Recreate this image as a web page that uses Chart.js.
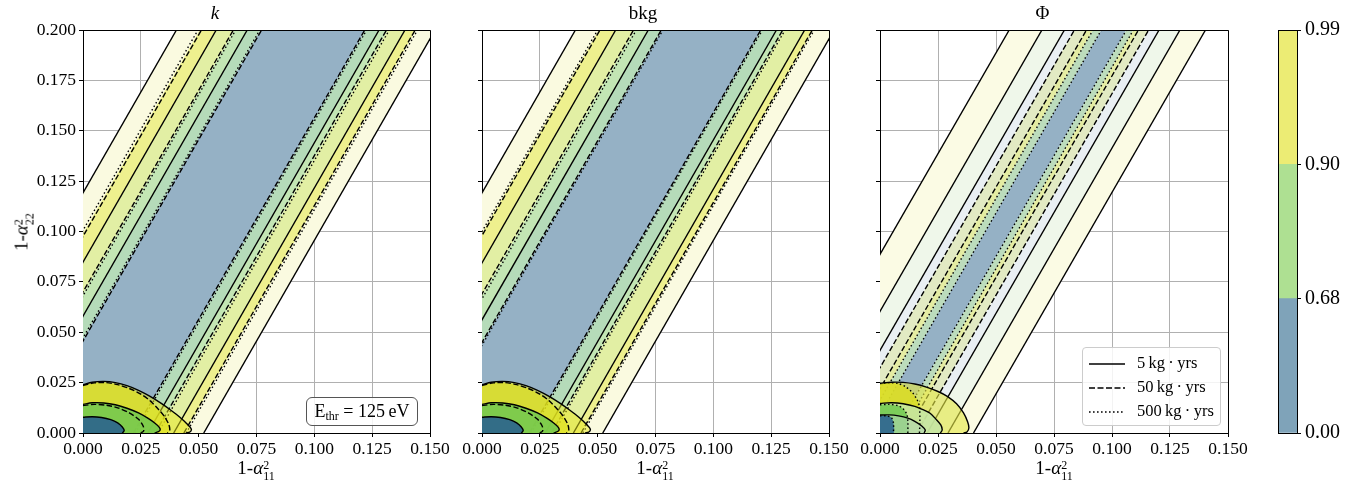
<!DOCTYPE html>
<html>
<head>
<meta charset="utf-8">
<script src="https://cdn.jsdelivr.net/npm/chart.js@4.4.0/dist/chart.umd.min.js"></script>
<style>
  body { margin: 0; background: #fff; width: 1367px; height: 491px; position: relative; overflow: hidden;
         font-family: 'Liberation Serif', 'DejaVu Serif', serif; color: #000; }
  .box { position: absolute; top: 0; height: 491px; }
  .xt { position: absolute; top: 457px; font-size: 19px; transform: translateX(-50%); white-space: nowrap; }
  .yt { position: absolute; left: 23px; top: 232px; font-size: 19px; white-space: nowrap;
        transform: translate(-50%, -50%) rotate(-90deg); }
  .ss { display: inline-block; vertical-align: -6px; font-size: 12px; line-height: 11px; }
  .ss span { display: block; }
  .ethr { position: absolute; left: 306px; top: 397px; width: 110px; height: 27px; border: 1px solid #555;
          border-radius: 6px; background: rgba(255,255,255,0.85); font-size: 18px; line-height: 27px; text-align: center; }
  .ethr sub { font-size: 12px; vertical-align: -3px; }
  .leg { position: absolute; left: 1082px; top: 347px; width: 137px; height: 77px; border: 1px solid #ccc;
         border-radius: 4px; background: rgba(255,255,255,0.85); font-size: 16.5px; }
  .leg div { position: absolute; left: 6px; height: 20px; line-height: 20px; white-space: nowrap; }
  .leg svg { vertical-align: middle; margin-right: 12px; }
</style>
</head>
<body>
<div class="box" style="left:0;width:457px"><canvas id="pk"></canvas></div>
<div class="box" style="left:457px;width:400px"><canvas id="pb"></canvas></div>
<div class="box" style="left:857px;width:399px"><canvas id="pf"></canvas></div>
<div class="box" style="left:1256px;width:111px"><canvas id="cb"></canvas></div>

<div class="xt" style="left:256px">1-<i>α</i><span class="ss"><span>2</span><span>11</span></span></div>
<div class="xt" style="left:655px">1-<i>α</i><span class="ss"><span>2</span><span>11</span></span></div>
<div class="xt" style="left:1054px">1-<i>α</i><span class="ss"><span>2</span><span>11</span></span></div>
<div class="yt">1-<i>α</i><span class="ss"><span>2</span><span>22</span></span></div>

<div class="ethr">E<sub>thr</sub> = 125&#8201;eV</div>
<div class="leg">
  <div style="top:5px"><svg width="36" height="4"><line x1="0" y1="2" x2="36" y2="2" stroke="#000" stroke-width="1.6"/></svg>5&#8201;kg&#8201;·&#8201;yrs</div>
  <div style="top:29px"><svg width="36" height="4"><line x1="0" y1="2" x2="36" y2="2" stroke="#000" stroke-width="1.6" stroke-dasharray="6,2.5"/></svg>50&#8201;kg&#8201;·&#8201;yrs</div>
  <div style="top:53px"><svg width="36" height="4"><line x1="0" y1="2" x2="36" y2="2" stroke="#000" stroke-width="1.6" stroke-dasharray="1.6,2.4"/></svg>500&#8201;kg&#8201;·&#8201;yrs</div>
</div>

<script>
// Axis ranges
const X_MAX = 0.15;
const Y_MAX = 0.2;
// the contour bands run along y = 2 (x - c); every band edge is given by its c
const BAND_SLOPE = 2;

const panelTitles = ['k', 'bkg', 'Φ'];

// colour bar
const cbLevels = ['0.00', '0.68', '0.90', '0.99'];
const cbColors = ['#7fa3b9', '#aee092', '#ecec74'];

// ---- panel k ----
const kEdges = [-0.0596, -0.0495, -0.0424, -0.0345, -0.0290, -0.0232, 0.0222, 0.0280, 0.0318, 0.0392, 0.0440, 0.0522];
const kSolid = [-0.0596, -0.0424, -0.0290, 0.0280, 0.0392, 0.0522];
const kDashed = [-0.0488, -0.0350, -0.0228, 0.0218, 0.0312, 0.0436];
const kDotted = [-0.0503, -0.0340, -0.0236, 0.0226, 0.0324, 0.0446];
// closed contours near the origin (points along each curve)
const kRing99 = [[0, 0.0240], [0.004, 0.0252], [0.009, 0.0256], [0.014, 0.0250], [0.019, 0.0235], [0.024, 0.0212],
  [0.029, 0.0182], [0.034, 0.0146], [0.038, 0.0113], [0.042, 0.0077], [0.045, 0.0045], [0.0468, 0.0020], [0.0462, 0.0005], [0.0445, 0]];
const kRing99in = [[0, 0.0236], [0.005, 0.0249], [0.010, 0.0250], [0.015, 0.0240], [0.020, 0.0221], [0.025, 0.0193],
  [0.029, 0.0160], [0.032, 0.0125], [0.035, 0.0085], [0.037, 0.0045], [0.0375, 0.0015], [0.0365, 0]];
const kRing90 = [[0, 0.0142], [0.004, 0.0150], [0.009, 0.0149], [0.014, 0.0140], [0.019, 0.0123], [0.024, 0.0100],
  [0.028, 0.0074], [0.031, 0.0050], [0.033, 0.0028], [0.0332, 0.0012], [0.031, 0]];
const kRing90in = [[0, 0.0136], [0.005, 0.0142], [0.010, 0.0138], [0.015, 0.0125], [0.020, 0.0100], [0.024, 0.0068],
  [0.026, 0.0035], [0.0262, 0.0010], [0.025, 0]];
const kCore68 = [[0, 0.0078], [0.004, 0.0081], [0.008, 0.0077], [0.012, 0.0066], [0.015, 0.0050], [0.017, 0.0030],
  [0.0178, 0.0012], [0.017, 0]];

// ---- panel bkg ----
const bEdges = [-0.0596, -0.0495, -0.0422, -0.0340, -0.0281, -0.0222, 0.0208, 0.0273, 0.0305, 0.0395, 0.0432, 0.0522];
const bSolid = [-0.0596, -0.0422, -0.0281, 0.0273, 0.0395, 0.0522];
const bDashed = [-0.0490, -0.0345, -0.0225, 0.0205, 0.0300, 0.0428];
const bDotted = [-0.0500, -0.0333, -0.0218, 0.0212, 0.0310, 0.0436];
const bRing99 = kRing99, bRing99in = kRing99in, bRing90 = kRing90, bRing90in = kRing90in, bCore68 = kCore68;

// ---- panel Phi ----
const fEdges = [-0.0443, -0.0302, -0.0205, -0.0162, -0.0110, -0.0082, -0.0046, 0.0062, 0.0092, 0.0114, 0.0158, 0.0203, 0.0293, 0.0403];
const fSolid = [-0.0443, -0.0302, -0.0205, 0.0203, 0.0293, 0.0403];
const fDashed = [-0.0162, -0.0110, 0.0114, 0.0158];
const fDotted = [-0.0082, -0.0046, 0.0062, 0.0092];
const fRing99 = [[0, 0.0247], [0.005, 0.0252], [0.010, 0.0251], [0.015, 0.0243], [0.020, 0.0228], [0.025, 0.0206],
  [0.029, 0.0182], [0.033, 0.0145], [0.036, 0.0100], [0.0378, 0.0055], [0.0383, 0.0025], [0.0375, 0.0005], [0.036, 0]];
const fRing99in = [[0, 0.0245], [0.004, 0.0250], [0.008, 0.0245], [0.011, 0.0230], [0.014, 0.0200], [0.016, 0.0165],
  [0.017, 0.0130], [0.0172, 0.0060], [0.017, 0]];
const fRing90 = [[0, 0.0147], [0.005, 0.0150], [0.010, 0.0145], [0.015, 0.0132], [0.019, 0.0113], [0.0216, 0.0098],
  [0.024, 0.0070], [0.0262, 0.0040], [0.0268, 0.0015], [0.026, 0]];
const fRing90in = [[0, 0.0140], [0.004, 0.0142], [0.008, 0.0135], [0.010, 0.0120], [0.0115, 0.0095], [0.012, 0.0060], [0.012, 0]];
const fRing68 = [[0, 0.0089], [0.004, 0.0090], [0.008, 0.0085], [0.012, 0.0074], [0.015, 0.0058], [0.018, 0.0035],
  [0.0195, 0.0015], [0.019, 0]];
const fCore68 = [[0, 0.0085], [0.003, 0.0085], [0.005, 0.0075], [0.0058, 0.0050], [0.0058, 0]];

// band colours (left to right)
const PALE = '#fafae0', YEL = '#eef08e', YG = '#e2efa4', GR1 = '#c3e6b4', GR2 = '#b5dbb9', BLU = '#95b1c5';
const kbFills = [PALE, YEL, YG, GR1, GR2, BLU, GR2, GR1, YG, YEL, PALE];
const fFills = ['#fbfbe4', '#eff7ea', '#e9eff3', '#e2eac3', '#e4eca2', '#bcdcbc', BLU,
  '#bcdcbc', '#e4eca2', '#e2eac3', '#e9eff3', '#eff7ea', '#fbfbe4'];

const DASH = [5.5, 2.4], DOT = [1.5, 2.5];

function seg(c) {
  return [{x: c, y: 0}, {x: c + Y_MAX / BAND_SLOPE, y: Y_MAX}];
}
function bandPoly(c1, c2) {
  const a = seg(c1), b = seg(c2);
  return [a[0], a[1], b[1], b[0], a[0]];
}
function curve(arr) { return arr.map(p => ({x: p[0], y: p[1]})); }

function fillSet(data, color, tension) {
  return {data, showLine: true, fill: 'shape', backgroundColor: color, borderColor: 'rgba(0,0,0,0)',
          borderWidth: 0, pointRadius: 0, tension: tension || 0};
}
function lineSet(data, dash, tension) {
  return {data, showLine: true, fill: false, borderColor: '#000', borderWidth: 1.4, borderDash: dash || [],
          pointRadius: 0, tension: tension || 0};
}

function panelSets(p) {
  const sets = [];
  for (let i = 0; i < p.edges.length - 1; i++) sets.push(fillSet(bandPoly(p.edges[i], p.edges[i + 1]), p.fills[i]));
  p.dotted.forEach(c => sets.push(lineSet(seg(c), DOT)));
  p.dashed.forEach(c => sets.push(lineSet(seg(c), DASH)));
  p.solid.forEach(c => sets.push(lineSet(seg(c))));
  p.blobs.forEach(b => {
    if (b.fill) sets.push(fillSet(curve(b.pts).concat([{x: 0, y: 0}]), b.fill, 0.3));
  });
  p.blobs.forEach(b => sets.push(lineSet(curve(b.pts), b.dash, 0.3)));
  sets.forEach((s, i) => { s.order = -i; });
  return sets;
}

// top and right spines, to close the box like the left/bottom axes
const framePlugin = {
  id: 'frame',
  afterDraw(chart) {
    const a = chart.chartArea, ctx = chart.ctx;
    const l = Math.round(a.left) + 0.5, t = Math.round(a.top) + 0.5;
    const r = Math.round(a.right) + 0.5, b = Math.round(a.bottom) + 0.5;
    ctx.save();
    ctx.strokeStyle = '#000';
    ctx.lineWidth = 1;
    ctx.beginPath();
    ctx.moveTo(l, t); ctx.lineTo(r, t); ctx.lineTo(r, b);
    ctx.stroke();
    ctx.restore();
  }
};

const TICK_FONT = {family: "'Liberation Serif', serif", size: 17.5};

function makePanel(id, idx, p, lay) {
  new Chart(document.getElementById(id), {
    type: 'scatter',
    data: {datasets: panelSets(p)},
    options: {
      responsive: true, maintainAspectRatio: false, animation: false,
      layout: {padding: {left: 0, right: lay.padR, top: 0, bottom: 0}},
      plugins: {
        legend: {display: false}, tooltip: {enabled: false},
        title: {display: true, text: panelTitles[idx], color: '#000',
                font: {family: "'Liberation Serif', serif", size: 19, style: idx === 0 ? 'italic' : 'normal', weight: 'normal', lineHeight: 1.2},
                padding: {top: 3, bottom: 4.2}}
      },
      scales: {
        x: {
          type: 'linear', min: 0, max: X_MAX, z: 1,
          ticks: {stepSize: 0.025, color: '#000', font: TICK_FONT, padding: 2, maxRotation: 0,
                  callback: v => v.toFixed(3)},
          grid: {color: '#b0b0b0', tickColor: '#000', tickLength: 4, lineWidth: 1},
          border: {color: '#000', width: 1},
          afterFit(s) { s.height = 58; s.paddingLeft = 0; s.paddingRight = 0; }
        },
        y: {
          type: 'linear', min: 0, max: Y_MAX, z: 1,
          ticks: {stepSize: 0.025, color: '#000', font: TICK_FONT, padding: 3, display: idx === 0,
                  callback: v => v.toFixed(3)},
          grid: {color: '#b0b0b0', tickColor: '#000', tickLength: 4, lineWidth: 1},
          border: {color: '#000', width: 1},
          afterFit(s) { s.width = lay.yW; s.paddingTop = 0; s.paddingBottom = 0; }
        }
      }
    },
    plugins: [framePlugin]
  });
}

const YEL_A = 'rgba(232,231,25,0.5)', YEL_B = 'rgba(225,226,30,0.72)', GRN_A = 'rgba(112,200,80,0.86)', BLU_A = 'rgba(43,99,142,0.9)';

makePanel('pk', 0, {
  edges: kEdges, fills: kbFills, solid: kSolid, dashed: kDashed, dotted: kDotted,
  blobs: [
    {pts: kRing99, fill: YEL_A}, {pts: kRing99in, fill: YEL_B, dash: DASH},
    {pts: kRing90, fill: GRN_A}, {pts: kRing90in, dash: DASH},
    {pts: kCore68, fill: BLU_A}
  ]
}, {yW: 83, padR: 27});

makePanel('pb', 1, {
  edges: bEdges, fills: kbFills, solid: bSolid, dashed: bDashed, dotted: bDotted,
  blobs: [
    {pts: bRing99, fill: YEL_A}, {pts: bRing99in, fill: YEL_B, dash: DASH},
    {pts: bRing90, fill: GRN_A}, {pts: bRing90in, dash: DASH},
    {pts: bCore68, fill: BLU_A}
  ]
}, {yW: 25, padR: 28});

makePanel('pf', 2, {
  edges: fEdges, fills: fFills, solid: fSolid, dashed: fDashed, dotted: fDotted,
  blobs: [
    {pts: fRing99, fill: 'rgba(228,230,70,0.62)'}, {pts: fRing99in, fill: 'rgba(218,221,35,0.85)', dash: DOT},
    {pts: fRing90, fill: 'rgba(196,230,165,0.88)'}, {pts: fRing90in, fill: GRN_A, dash: DOT},
    {pts: fRing68, fill: 'rgba(176,214,178,0.6)'}, {pts: fCore68, fill: BLU_A, dash: DOT}
  ]
}, {yW: 23, padR: 28});

// colour bar: three equal segments between the levels
new Chart(document.getElementById('cb'), {
  type: 'bar',
  data: {
    labels: [''],
    datasets: cbColors.map(c => ({data: [1], backgroundColor: c, borderWidth: 0, barPercentage: 1, categoryPercentage: 1}))
  },
  options: {
    responsive: true, maintainAspectRatio: false, animation: false,
    layout: {padding: {left: 22, right: 0, top: 30, bottom: 58}},
    plugins: {legend: {display: false}, tooltip: {enabled: false}},
    scales: {
      x: {display: false, stacked: true},
      y: {
        stacked: true, position: 'right', min: 0, max: cbLevels.length - 1,
        ticks: {stepSize: 1, color: '#000', font: {family: "'Liberation Serif', serif", size: 20}, padding: 4,
                callback: v => cbLevels[v]},
        grid: {display: true, drawOnChartArea: false, tickColor: '#000', tickLength: 4},
        border: {color: '#000', width: 1},
        afterFit(s) { s.width = 70; s.paddingTop = 0; s.paddingBottom = 0; }
      }
    }
  },
  plugins: [{
    id: 'cbframe',
    afterDraw(chart) {
      const a = chart.chartArea, ctx = chart.ctx;
      ctx.save();
      ctx.strokeStyle = '#000';
      ctx.lineWidth = 1;
      ctx.strokeRect(Math.round(a.left) + 0.5, Math.round(a.top) + 0.5, Math.round(a.right - a.left), Math.round(a.bottom - a.top));
      ctx.restore();
    }
  }]
});
</script>
</body>
</html>
